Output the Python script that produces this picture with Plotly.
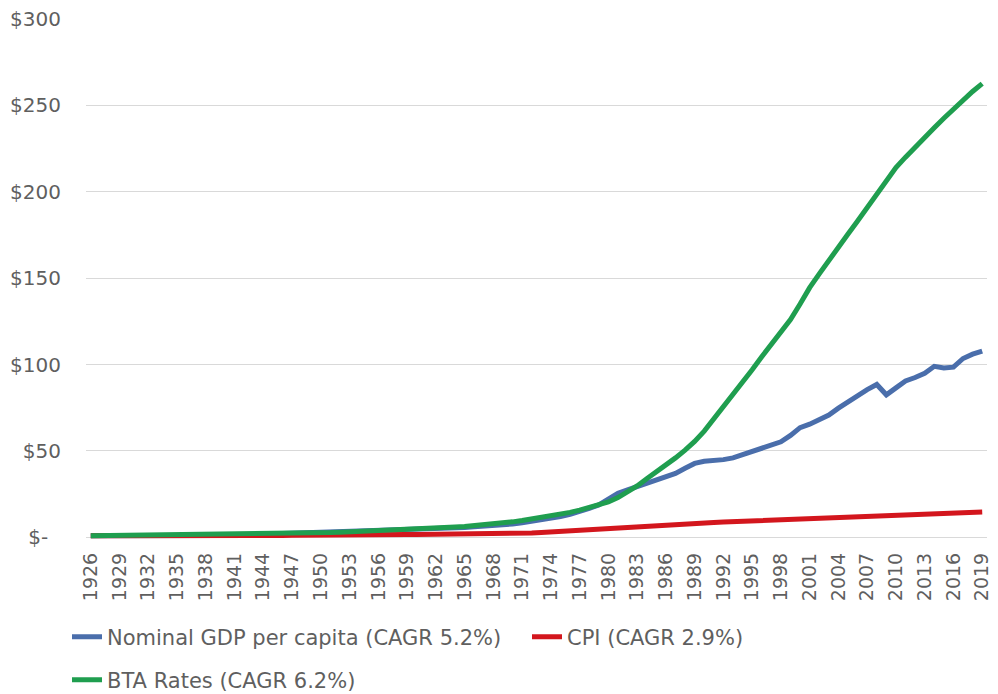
import plotly.graph_objects as go

years = list(range(1926, 2020))

gdp = [1.00, 1.00, 1.01, 1.05, 0.93, 0.80, 0.64, 0.62, 0.72, 0.80,
       0.91, 1.00, 0.93, 1.00, 1.10, 1.36, 1.72, 2.08, 2.25, 2.28,
       2.30, 2.48, 2.70, 2.66, 2.90, 3.20, 3.32, 3.46, 3.44, 3.70,
       3.86, 4.00, 4.00, 4.30, 4.40, 4.50, 4.80, 5.00, 5.30, 5.70,
       6.15, 6.45, 7.00, 7.50, 7.80, 8.40, 9.20, 10.20, 11.00, 12.00,
       13.30, 14.80, 16.80, 18.80, 22.00, 25.50, 27.50, 29.50, 31.50, 33.50,
       34.80, 37.00, 40.00, 42.80, 44.00, 44.30, 45.00, 46.00, 47.80, 49.80,
       51.20, 53.20, 55.30, 59.00, 63.50, 65.50, 67.80, 70.80, 74.80, 78.50,
       82.00, 85.50, 88.50, 82.50, 86.50, 90.50, 92.50, 95.00, 99.00, 98.00,
       98.50, 103.50, 106.00, 107.80]

cpi = [1.00, 0.98, 0.97, 0.97, 0.95, 0.87, 0.78, 0.74, 0.77, 0.79,
       0.80, 0.83, 0.81, 0.80, 0.81, 0.85, 0.94, 1.00, 1.02, 1.05,
       1.13, 1.29, 1.38, 1.37, 1.40, 1.50, 1.53, 1.55, 1.56, 1.56,
       1.59, 1.64, 1.68, 1.70, 1.73, 1.75, 1.77, 1.80, 1.83, 1.87,
       1.93, 2.00, 2.10, 2.23, 2.38, 2.50, 2.62, 2.82, 3.15, 3.50,
       3.78, 4.05, 4.40, 4.90, 5.50, 6.00, 6.35, 6.55, 6.80, 7.00,
       7.10, 7.35, 7.65, 7.98, 8.35, 8.65, 8.85, 9.05, 9.25, 9.45,
       9.70, 9.90, 10.05, 10.25, 10.55, 10.80, 10.95, 11.15, 11.40, 11.75,
       12.05, 12.35, 12.75, 12.70, 12.90, 13.25, 13.50, 13.65, 13.85, 13.85,
       14.00, 14.25, 14.55, 14.75]

bta = [1.00, 1.05, 1.10, 1.15, 1.20, 1.24, 1.28, 1.31, 1.34, 1.37,
       1.40, 1.43, 1.46, 1.50, 1.54, 1.60, 1.66, 1.72, 1.80, 1.90,
       2.00, 2.12, 2.25, 2.40, 2.60, 2.80, 3.00, 3.20, 3.40, 3.60,
       3.80, 4.05, 4.30, 4.55, 4.80, 5.05, 5.35, 5.65, 6.00, 6.35,
       6.75, 7.20, 7.70, 8.30, 9.00, 9.80, 10.60, 11.50, 12.40, 13.40,
       14.50, 15.80, 17.30, 19.20, 20.50, 23.00, 26.00, 29.80, 34.00, 37.80,
       41.80, 46.00, 50.50, 55.50, 61.50, 68.50, 75.00, 82.00, 89.50, 97.00,
       104.50, 112.00, 119.00, 126.00, 135.00, 144.50, 152.50, 160.50, 168.00, 175.50,
       183.00, 191.00, 199.00, 207.00, 214.00, 220.00, 226.00, 231.50, 237.00, 242.50,
       248.00, 253.00, 258.00, 262.50]

names = ["Nominal GDP per capita (CAGR 5.2%)", "CPI (CAGR 2.9%)", "BTA Rates (CAGR 6.2%)"]
colors = ["#4a6eab", "#d3161d", "#1f9e4f"]

y_ticks = [0, 50, 100, 150, 200, 250, 300]
y_labels = ["$-\u00a0\u00a0", "$50", "$100", "$150", "$200", "$250", "$300"]
x_ticks = years[::3]

FONT = "DejaVu Sans, Verdana, sans-serif"
GREY = "#5f5f5f"

fig = go.Figure()
for vals, name, col, lg in zip([gdp, cpi, bta], names, colors, ["legend", "legend3", "legend2"]):
    fig.add_trace(go.Scatter(x=years, y=vals, name=name, mode="lines",
                             line=dict(color=col, width=5), legend=lg))


def leg(xpx, ypx):
    return dict(orientation="h", xref="container", yref="container",
                x=xpx / 998, y=1 - ypx / 694, xanchor="left", yanchor="middle",
                font=dict(size=21, color=GREY), bgcolor="rgba(0,0,0,0)")


fig.update_layout(
    width=998, height=694,
    margin=dict(l=86, r=6, t=18, b=154),
    paper_bgcolor="white", plot_bgcolor="white",
    font=dict(family=FONT, size=20, color=GREY),
    legend=leg(67, 637),
    legend3=leg(527, 637),
    legend2=leg(67, 680),
    xaxis=dict(range=[1925.5, 2019.5], tickvals=x_ticks, ticktext=[str(v) for v in x_ticks],
               tickangle=-90, showgrid=False, zeroline=False, showline=False,
               ticks="", ticklabelstandoff=8, ticklabeloverflow="allow",
               tickfont=dict(size=19, color=GREY)),
    yaxis=dict(range=[-1.5, 300.5], tickvals=y_ticks, ticktext=y_labels,
               showgrid=True, gridcolor="#d9d9d9", gridwidth=1,
               zeroline=True, zerolinecolor="#d9d9d9", zerolinewidth=1,
               showline=False, ticks="", ticklabelstandoff=24,
               tickfont=dict(size=20, color=GREY)),
    showlegend=True,
)

fig.write_html("out.html")
